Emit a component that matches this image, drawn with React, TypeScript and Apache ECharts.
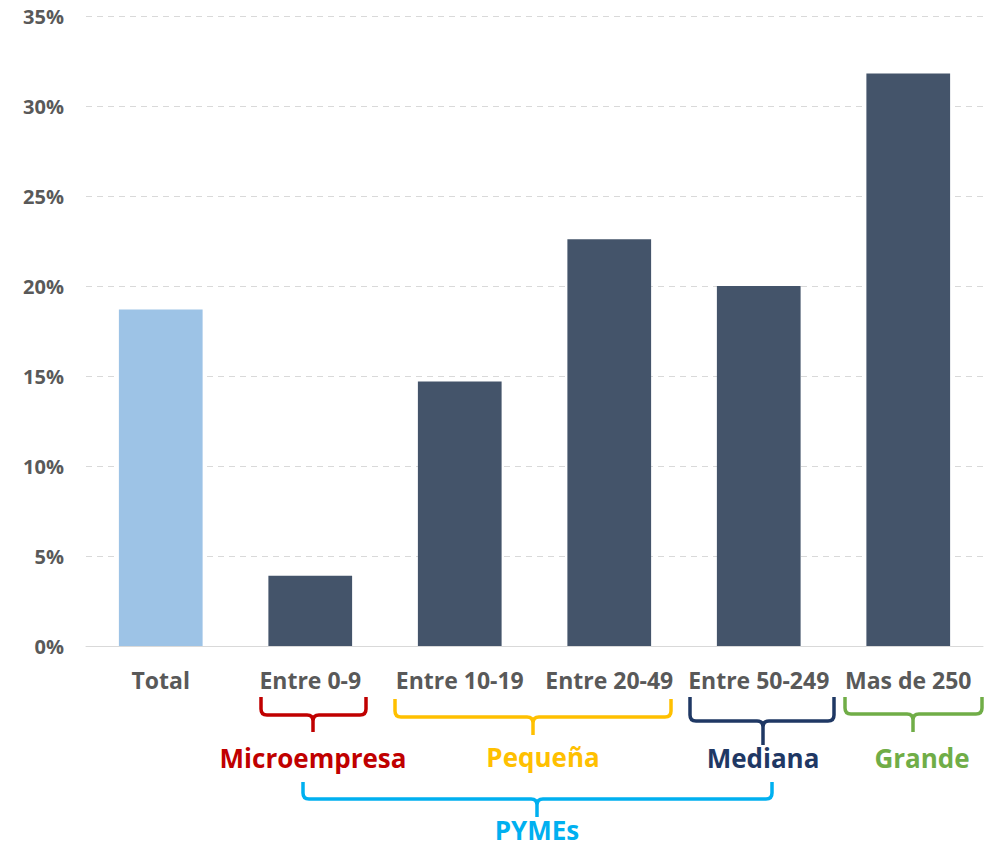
import React, { useEffect, useRef } from "react";
import * as echarts from "echarts";

const categories = ["Total", "Entre 0-9", "Entre 10-19", "Entre 20-49", "Entre 50-249", "Mas de 250"];
const values = [18.7, 3.9, 14.7, 22.6, 20.0, 31.8];
const barColors = ["#9DC3E6", "#44546A", "#44546A", "#44546A", "#44546A", "#44546A"];

const groupNames = ["Microempresa", "Pequeña", "Mediana", "Grande", "PYMEs"];
const groupColors = ["#C00000", "#FFC000", "#1F3864", "#70AD47", "#00B0F0"];

const FONT = "'Open Sans', 'Noto Sans', sans-serif";

function bracketPath(x1: number, x2: number, yTop: number, yMid: number, xc: number, yBot: number, r: number) {
  return (
    `M${x1} ${yTop} L${x1} ${yMid - r} Q${x1} ${yMid} ${x1 + r} ${yMid} L${xc - r} ${yMid} Q${xc} ${yMid} ${xc} ${yMid + r} L${xc} ${yBot} ` +
    `M${xc} ${yMid + r} Q${xc} ${yMid} ${xc + r} ${yMid} L${x2 - r} ${yMid} Q${x2} ${yMid} ${x2} ${yMid - r} L${x2} ${yTop}`
  );
}

// bracket geometry: [x1, x2, yTop, yMid, xc, yBot]
const brackets: [number, number, number, number, number, number][] = [
  [261, 366, 697, 715, 313, 732],
  [395, 671, 699, 717, 533, 735],
  [690, 834, 697, 721, 763, 745],
  [845, 982, 697, 714, 913, 732],
  [303, 772, 782, 799, 537, 817],
];
const labelPos: [number, number][] = [
  [313, 758],
  [543, 757],
  [763, 758],
  [922, 758],
  [537, 830],
];

let registered = false;
function registerShapes() {
  if (registered) return;
  brackets.forEach((b, i) => {
    echarts.graphic.registerShape(
      "bracket" + i,
      echarts.graphic.extendPath(bracketPath(b[0], b[1], b[2], b[3], b[4], b[5], 6), {})
    );
  });
  registered = true;
}

export default function App() {
  const ref = useRef<HTMLDivElement>(null);
  useEffect(() => {
    if (!ref.current) return;
    registerShapes();
    const chart = echarts.init(ref.current, undefined, { renderer: "svg" });
    const graphics: any[] = [];
    brackets.forEach((_, i) => {
      graphics.push({
        type: "bracket" + i,
        x: 0,
        y: 0,
        style: { stroke: groupColors[i], fill: "none", lineWidth: 3.5, lineCap: "butt", lineJoin: "round" },
        silent: true,
      });
      graphics.push({
        type: "text",
        x: labelPos[i][0],
        y: labelPos[i][1],
        style: {
          text: groupNames[i],
          fill: groupColors[i],
          font: `bold 26px ${FONT}`,
          lineHeight: 26,
          textAlign: "center",
          textVerticalAlign: "middle",
        },
        silent: true,
      });
    });
    chart.setOption({
      animation: false,
      grid: { left: 86, right: 3, top: 16, bottom: 201, containLabel: false },
      xAxis: {
        type: "category",
        data: categories,
        axisTick: { show: false },
        axisLine: { lineStyle: { color: "#D9D9D9", width: 1 } },
        axisLabel: { color: "#595959", fontWeight: "bold", fontSize: 23, fontFamily: FONT, margin: 22, interval: 0 },
      },
      yAxis: {
        type: "value",
        min: 0,
        max: 35,
        interval: 5,
        axisLine: { show: false },
        axisTick: { show: false },
        axisLabel: {
          formatter: "{value}%",
          color: "#595959",
          fontWeight: "bold",
          fontSize: 20,
          fontFamily: FONT,
          margin: 22,
        },
        splitLine: { lineStyle: { color: "#D9D9D9", type: [6, 5], width: 1 } },
      },
      series: [
        {
          type: "bar",
          data: values.map((v, i) => ({ value: v, itemStyle: { color: barColors[i] } })),
          barWidth: "56%",
        },
      ],
      graphic: graphics,
    });
    return () => chart.dispose();
  }, []);
  return <div ref={ref} style={{ position: "fixed", left: 0, top: 0, width: 986, height: 847, background: "#fff" }} />;
}
